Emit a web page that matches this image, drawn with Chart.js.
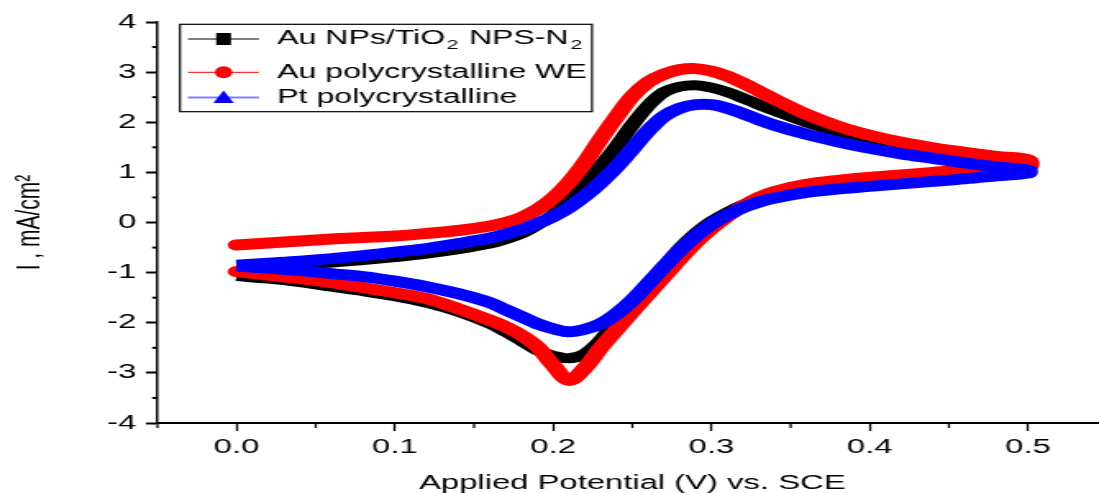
<!DOCTYPE html>
<html>
<head>
<meta charset="utf-8">
<title>Cyclic voltammograms</title>
<script src="https://cdn.jsdelivr.net/npm/chart.js@4.4.0/dist/chart.umd.min.js"></script>
<style>
    html, body { margin: 0; padding: 0; background: #fff; }
    #frame { width: 1099px; height: 493px; overflow: hidden; }
    /* the source figure is stretched horizontally, so the whole chart is too */
    #stretch { width: 675px; height: 493px; transform: scaleX(1.6403); transform-origin: 0 0; }
</style>
</head>
<body>
<div id="frame"><div id="stretch"><canvas id="cv" width="675" height="493"></canvas></div></div>
<script>
// Potential grid (V vs. SCE), shared by the anodic and cathodic sweeps
const potentials = [0, 0.02, 0.04, 0.06, 0.08, 0.1, 0.12, 0.14, 0.16, 0.17, 0.18, 0.19, 0.2,
    0.21, 0.22, 0.23, 0.24, 0.25, 0.26, 0.27, 0.28, 0.29, 0.3, 0.31, 0.32, 0.33, 0.34,
    0.36, 0.38, 0.4, 0.42, 0.44, 0.46, 0.48, 0.5];

// Current density (mA/cm2)
const auNpsAnodic = [-0.9, -0.87, -0.84, -0.8, -0.75, -0.69, -0.62, -0.53, -0.42, -0.33, -0.22, -0.05, 0.16,
    0.44, 0.78, 1.13, 1.52, 1.95, 2.33, 2.6, 2.71, 2.74, 2.69, 2.6, 2.48, 2.35, 2.23,
    2.0, 1.81, 1.65, 1.51, 1.39, 1.3, 1.22, 1.15];
const auNpsCathodic = [-1.07, -1.12, -1.19, -1.28, -1.37, -1.47, -1.6, -1.78, -2.02, -2.18, -2.36, -2.55, -2.66,
    -2.71, -2.62, -2.35, -1.96, -1.63, -1.28, -0.9, -0.52, -0.22, 0.02, 0.2, 0.35, 0.46, 0.54,
    0.65, 0.72, 0.78, 0.83, 0.88, 0.94, 1.0, 1.08];
const auPolyAnodic = [-0.45, -0.41, -0.37, -0.33, -0.3, -0.27, -0.22, -0.16, -0.07, 0.0, 0.1, 0.26, 0.49,
    0.8, 1.2, 1.67, 2.11, 2.52, 2.8, 2.96, 3.05, 3.07, 3.02, 2.92, 2.78, 2.62, 2.46,
    2.16, 1.92, 1.74, 1.6, 1.49, 1.4, 1.32, 1.25];
const auPolyCathodic = [-0.98, -1.05, -1.12, -1.2, -1.3, -1.4, -1.52, -1.72, -1.95, -2.08, -2.25, -2.48, -2.85,
    -3.15, -2.9, -2.5, -2.14, -1.78, -1.43, -1.08, -0.73, -0.4, -0.12, 0.12, 0.33, 0.5, 0.62,
    0.76, 0.84, 0.9, 0.95, 1.0, 1.05, 1.08, 1.1];
const ptAnodic = [-0.85, -0.81, -0.77, -0.72, -0.66, -0.59, -0.52, -0.42, -0.31, -0.23, -0.14, -0.02, 0.12,
    0.3, 0.53, 0.8, 1.11, 1.47, 1.83, 2.12, 2.28, 2.35, 2.35, 2.28, 2.17, 2.05, 1.94,
    1.76, 1.61, 1.48, 1.37, 1.28, 1.19, 1.11, 1.04];
const ptCathodic = [-0.87, -0.91, -0.96, -1.02, -1.08, -1.17, -1.28, -1.42, -1.6, -1.74, -1.88, -2.02, -2.12,
    -2.18, -2.13, -2.02, -1.82, -1.55, -1.22, -0.88, -0.55, -0.27, -0.03, 0.15, 0.3, 0.41, 0.49,
    0.6, 0.67, 0.72, 0.77, 0.82, 0.87, 0.93, 0.99];

const seriesNames = ['Au NPs/TiO₂ NPS-N₂', 'Au polycrystalline WE', 'Pt polycrystalline'];

// Axis ticks
const xMajorTicks = [0, 0.1, 0.2, 0.3, 0.4, 0.5];
const xMinorTicks = [-0.05, 0.05, 0.15, 0.25, 0.35, 0.45];
const yMajorTicks = [-4, -3, -2, -1, 0, 1, 2, 3, 4];
const yMinorTicks = [-3.5, -2.5, -1.5, -0.5, 0.5, 1.5, 2.5, 3.5];

const xTitle = 'Applied Potential (V) vs. SCE';
const yTitle = 'I , mA/cm²';

const FONT = '"Liberation Sans", Arial, sans-serif';

// forward sweep along the anodic branch, then back along the cathodic one
function loop(anodic, cathodic) {
    const pts = potentials.map((v, i) => ({ x: v, y: anodic[i] }));
    for (let i = potentials.length - 1; i >= 0; i--) {
        pts.push({ x: potentials[i], y: cathodic[i] });
    }
    return pts;
}

const legendStyles = [
    { line: '#000000', fill: '#000000', marker: 'square' },
    { line: '#ff0000', fill: '#ff0000', marker: 'circle' },
    { line: '#8080ff', fill: '#0000ff', marker: 'triangle' }
];

function drawMarker(ctx, kind, x, y) {
    ctx.beginPath();
    if (kind === 'square') {
        ctx.rect(x - 4.5, y - 6, 9, 12);
    } else if (kind === 'circle') {
        ctx.ellipse(x, y, 5.3, 6, 0, 0, Math.PI * 2);
    } else {
        ctx.moveTo(x, y - 7);
        ctx.lineTo(x + 6.2, y + 5.5);
        ctx.lineTo(x - 6.2, y + 5.5);
        ctx.closePath();
    }
    ctx.fill();
}

// text with "₂" drawn as a lowered small 2
function drawRichText(ctx, text, x, y) {
    const parts = text.split('₂');
    parts.forEach((part, i) => {
        ctx.font = '19.5px ' + FONT;
        ctx.fillText(part, x, y);
        x += ctx.measureText(part).width;
        if (i < parts.length - 1) {
            ctx.font = '13px ' + FONT;
            ctx.fillText('2', x + 1, y + 6);
            x += ctx.measureText('2').width + 2;
        }
    });
}

const decorations = {
    id: 'decorations',
    afterDraw(chart) {
        const { ctx, chartArea, scales } = chart;
        ctx.save();
        ctx.strokeStyle = '#000';

        // minor ticks
        ctx.lineWidth = 1.3;
        xMinorTicks.forEach(v => {
            const px = scales.x.getPixelForValue(v);
            ctx.beginPath();
            ctx.moveTo(px, chartArea.bottom);
            ctx.lineTo(px, chartArea.bottom + 5);
            ctx.stroke();
        });
        ctx.lineWidth = 2;
        yMinorTicks.forEach(v => {
            const py = scales.y.getPixelForValue(v);
            ctx.beginPath();
            ctx.moveTo(chartArea.left - 3.2, py);
            ctx.lineTo(chartArea.left, py);
            ctx.stroke();
        });

        // legend
        const box = { left: 109.7, top: 24.3, right: 360.9, bottom: 111.7 };
        const rows = [39, 72.3, 97.5];
        ctx.fillStyle = '#fff';
        ctx.fillRect(box.left, box.top, box.right - box.left, box.bottom - box.top);
        ctx.lineWidth = 1.2;
        ctx.strokeRect(box.left, box.top, box.right - box.left, box.bottom - box.top);

        ctx.textBaseline = 'middle';
        ctx.textAlign = 'left';
        seriesNames.forEach((name, i) => {
            const st = legendStyles[i];
            const y = rows[i];
            ctx.strokeStyle = st.line;
            ctx.lineWidth = i === 2 ? 2 : 1;
            ctx.beginPath();
            ctx.moveTo(114.6, y);
            ctx.lineTo(157.9, y);
            ctx.stroke();
            ctx.fillStyle = st.fill;
            drawMarker(ctx, st.marker, 136.3, y);
            ctx.fillStyle = '#000';
            drawRichText(ctx, name, 169.1, y);
        });
        ctx.restore();
    }
};

new Chart(document.getElementById('cv'), {
    type: 'scatter',
    data: {
        datasets: [
            {
                label: seriesNames[0],
                data: loop(auNpsAnodic, auNpsCathodic),
                borderColor: '#000000',
                borderWidth: 10,
                borderCapStyle: 'butt',
                showLine: true,
                order: 3
            },
            {
                label: seriesNames[1],
                data: loop(auPolyAnodic, auPolyCathodic),
                borderColor: '#ff0000',
                borderWidth: 11,
                borderCapStyle: 'round',
                showLine: true,
                order: 2
            },
            {
                label: seriesNames[2],
                data: loop(ptAnodic, ptCathodic),
                borderColor: '#0000ff',
                borderWidth: 11,
                borderCapStyle: 'butt',
                showLine: true,
                order: 1
            }
        ]
    },
    options: {
        responsive: false,
        animation: false,
        layout: { padding: { top: 22, right: 0, bottom: 0, left: 0 } },
        elements: {
            point: { radius: 0, hoverRadius: 0 },
            line: { tension: 0.35, borderJoinStyle: 'round', fill: false }
        },
        plugins: {
            legend: { display: false },
            tooltip: { enabled: false }
        },
        scales: {
            x: {
                type: 'linear',
                min: -0.05,
                max: 0.55,
                afterFit(scale) { scale.height = 70; },
                afterBuildTicks(scale) { scale.ticks = xMajorTicks.map(v => ({ value: v })); },
                ticks: {
                    callback: v => v.toFixed(1),
                    font: { family: FONT, size: 20 },
                    color: '#000',
                    padding: 4,
                    autoSkip: false,
                    maxRotation: 0
                },
                grid: { drawOnChartArea: false, tickLength: 8, tickWidth: 1.3, tickColor: '#000' },
                border: { color: '#000', width: 2 },
                title: {
                    display: true,
                    text: xTitle,
                    color: '#000',
                    font: { family: FONT, size: 20, lineHeight: 1 },
                    padding: { top: 0, bottom: 0 }
                }
            },
            y: {
                type: 'linear',
                min: -4,
                max: 4,
                afterFit(scale) { scale.width = 96; },
                afterBuildTicks(scale) { scale.ticks = yMajorTicks.map(v => ({ value: v })); },
                ticks: {
                    callback: v => v.toFixed(0),
                    font: { family: FONT, size: 20 },
                    color: '#000',
                    padding: 6,
                    autoSkip: false
                },
                grid: { drawOnChartArea: false, tickLength: 7, tickWidth: 2, tickColor: '#000' },
                border: { color: '#000', width: 1.5 },
                title: {
                    display: true,
                    text: yTitle,
                    color: '#000',
                    font: { family: FONT, size: 21, lineHeight: 1.2 },
                    padding: { top: 6, bottom: 0 }
                }
            }
        }
    },
    plugins: [decorations]
});
</script>
</body>
</html>
